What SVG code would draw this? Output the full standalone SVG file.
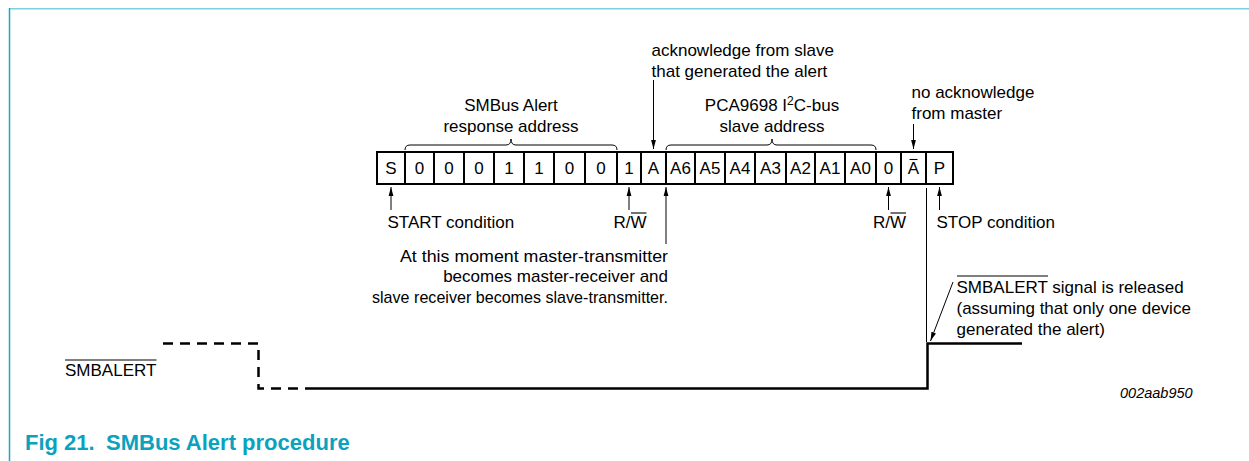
<svg xmlns="http://www.w3.org/2000/svg" width="1249" height="461" viewBox="0 0 1249 461">
<style>
text{font-family:"Liberation Sans",Arial,sans-serif;font-size:17px;fill:#000}
.c{text-anchor:middle}
.e{text-anchor:end}
.thin{stroke:#000;stroke-width:1;fill:none}
.ov{stroke:#000;stroke-width:1.1}
.box{fill:#fff;stroke:#000;stroke-width:2}
.sig{stroke:#000;stroke-width:2.5;fill:none}
.dash{stroke-dasharray:10 7}
.cap{font-size:22px;font-weight:bold;fill:#0aa2be}
.id{font-size:14.5px;font-style:italic}
</style>
<defs>
<marker id="ah" markerWidth="10" markerHeight="6" refX="9" refY="3" orient="auto" markerUnits="userSpaceOnUse">
<path d="M0,0.6 L9,3 L0,5.4 z" fill="#000"/>
</marker>
</defs>
<rect width="1249" height="461" fill="#fff"/>
<g id="frame">
<line x1="9" y1="8.7" x2="1249" y2="8.7" stroke="#7dd0dc" stroke-width="1.6"/>
<line x1="9.5" y1="8" x2="9.5" y2="461" stroke="#1aa8c2" stroke-width="1.5"/>
</g>
<g id="frame-boxes">
<rect class="box" x="377" y="152" width="576" height="32"/>
<path class="thin" style="stroke-width:2" d="M405,152V184M434,152V184M464,152V184M494,152V184M524,152V184M554,152V184M585,152V184M617,152V184M641,152V184M666,152V184M695,152V184M725,152V184M755,152V184M786,152V184M815,152V184M845,152V184M876,152V184M901,152V184M926,152V184"/>
<text class="c" x="391" y="174">S</text>
<text class="c" x="419.5" y="174">0</text>
<text class="c" x="449" y="174">0</text>
<text class="c" x="479" y="174">0</text>
<text class="c" x="509" y="174">1</text>
<text class="c" x="539" y="174">1</text>
<text class="c" x="569.5" y="174">0</text>
<text class="c" x="601" y="174">0</text>
<text class="c" x="629" y="174">1</text>
<text class="c" x="653.5" y="174">A</text>
<text class="c" x="680.5" y="174">A6</text>
<text class="c" x="710" y="174">A5</text>
<text class="c" x="740" y="174">A4</text>
<text class="c" x="770.5" y="174">A3</text>
<text class="c" x="800.5" y="174">A2</text>
<text class="c" x="830" y="174">A1</text>
<text class="c" x="860.5" y="174">A0</text>
<text class="c" x="888.5" y="174">0</text>
<text class="c" x="913.5" y="174">A</text>
<line class="ov" x1="909.5" y1="159.5" x2="917.5" y2="159.5"/>
<text class="c" x="939.5" y="174">P</text>
</g>
<g id="brace-smbus">
<path class="thin" d="M405,150 Q405,145 410,145 L506,145 Q511,145 511,139 Q511,145 516,145 L612,145 Q617,145 617,150"/>
<text class="c" x="511" y="111">SMBus Alert</text>
<text class="c" x="511" y="132">response address</text>
</g>
<g id="brace-pca">
<path class="thin" d="M666,150 Q666,145 671,145 L767,145 Q772,145 772,139 Q772,145 777,145 L871,145 Q876,145 876,150"/>
<text class="c" x="772" y="111">PCA9698 I<tspan font-size="12" dy="-6">2</tspan><tspan dy="6">C-bus</tspan></text>
<text class="c" x="772" y="132">slave address</text>
</g>
<g id="label-ack">
<text x="651.5" y="56">acknowledge from slave</text>
<text x="651.5" y="77">that generated the alert</text>
</g>
<g id="label-noack">
<text x="911.5" y="98">no acknowledge</text>
<text x="911.5" y="119">from master</text>
</g>
<g id="label-start"><text x="387.5" y="228">START condition</text></g>
<g id="label-rw1">
<text x="613.5" y="228">R/W</text>
<line class="ov" x1="631" y1="213" x2="646.5" y2="213"/>
</g>
<g id="label-rw2">
<text x="873" y="228">R/W</text>
<line class="ov" x1="890.5" y1="213" x2="906" y2="213"/>
</g>
<g id="label-stop"><text x="936.5" y="228">STOP condition</text></g>
<g id="label-moment">
<text class="e" x="668" y="262" textLength="268" lengthAdjust="spacingAndGlyphs">At this moment master-transmitter</text>
<text class="e" x="668" y="282">becomes master-receiver and</text>
<text class="e" x="668" y="303" textLength="296" lengthAdjust="spacingAndGlyphs">slave receiver becomes slave-transmitter.</text>
</g>
<g id="label-released">
<text x="956.5" y="293">SMBALERT signal is released</text>
<line class="ov" x1="957" y1="276" x2="1048" y2="276"/>
<text x="956.5" y="314">(assuming that only one device</text>
<text x="956.5" y="335">generated the alert)</text>
</g>
<g id="signal">
<text x="65" y="376">SMBALERT</text>
<line class="ov" x1="65" y1="360" x2="156.5" y2="360"/>
<path class="sig dash" d="M163,343.5 H258.5 V388.5 H305"/>
<path class="sig" d="M305,388.5 H927.5 V343.5 H1022"/>
</g>
<g id="connectors">
<line class="thin" x1="653.5" y1="80" x2="653.5" y2="149" marker-end="url(#ah)"/>
<line class="thin" x1="913.5" y1="124" x2="913.5" y2="149" marker-end="url(#ah)"/>
<line class="thin" x1="391" y1="210" x2="391" y2="187" marker-end="url(#ah)"/>
<line class="thin" x1="629" y1="210" x2="629" y2="187" marker-end="url(#ah)"/>
<line class="thin" x1="666" y1="244" x2="666" y2="187" marker-end="url(#ah)"/>
<line class="thin" x1="888.5" y1="210" x2="888.5" y2="187" marker-end="url(#ah)"/>
<line class="thin" x1="939.5" y1="210" x2="939.5" y2="187" marker-end="url(#ah)"/>
<line class="thin" x1="926.5" y1="188" x2="926.5" y2="342"/>
<line class="thin" x1="953" y1="282" x2="930.5" y2="341" marker-end="url(#ah)"/>
</g>
<text class="id" x="1120" y="398">002aab950</text>
<g id="caption">
<text class="cap" x="25" y="450">Fig 21.</text>
<text class="cap" x="106" y="450">SMBus Alert procedure</text>
</g>
</svg>
